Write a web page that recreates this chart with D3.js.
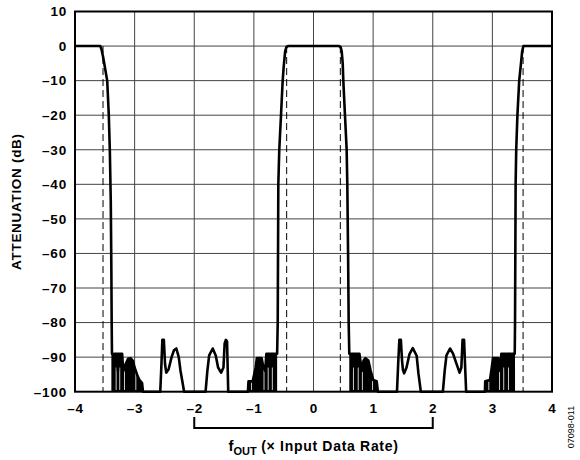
<!DOCTYPE html>
<html>
<head>
<meta charset="utf-8">
<script src="https://cdn.jsdelivr.net/npm/d3@7"></script>
<style>
body { margin: 0; background: #fff; }
text { font-family: "Liberation Sans", Arial, Helvetica, sans-serif; font-weight: bold; fill: #000; }
</style>
</head>
<body>
<div id="content"></div>
<script>
// interpolation filter response, f in units of input data rate, attenuation in dB

var xTicks = [-4, -3, -2, -1, 0, 1, 2, 3, 4];
var yTicks = [10, 0, -10, -20, -30, -40, -50, -60, -70, -80, -90, -100];

// passband edge markers (dashed)
var edgeFreqs = [-3.53, -0.45, 0.45, 3.515];

// stopband regions where the ripple is too dense to resolve
var denseRanges = [[-3.39, -2.86], [-1.10, -0.605], [0.595, 1.08], [2.875, 3.38]];

// thin gaps visible inside the dense ripple
var denseGaps = [-3.31, -3.25, -3.17, -2.98, -1.04, -0.83, -0.76, -0.69, 0.67, 0.75, 0.82, 0.99, 2.94, 3.12, 3.19, 3.27];

var response = [
	// band at -4
	[-4, 0], [-3.575, 0], [-3.555, -1], [-3.53, -3], [-3.50, -6], [-3.46, -10],
	[-3.433, -20], [-3.416, -30], [-3.40, -45], [-3.39, -65], [-3.385, -80], [-3.38, -89],
	// dense stopband
	[-3.36, -89], [-3.35, -93], [-3.34, -89], [-3.29, -89], [-3.28, -94], [-3.27, -89],
	[-3.21, -89], [-3.19, -94], [-3.15, -92], [-3.11, -90.5], [-3.07, -90.3], [-3.03, -91],
	[-3.0, -93], [-2.96, -95], [-2.92, -96.6], [-2.875, -97.5], [-2.86, -100],
	// sparse lobes
	[-2.57, -100], [-2.55, -92], [-2.535, -85], [-2.51, -85], [-2.49, -92], [-2.47, -94.5],
	[-2.43, -93.5], [-2.38, -90], [-2.34, -88], [-2.30, -87.5], [-2.26, -90], [-2.23, -94],
	[-2.20, -97], [-2.17, -100],
	[-1.81, -100], [-1.78, -94], [-1.75, -89.5], [-1.69, -87.5], [-1.64, -89.5], [-1.60, -93],
	[-1.55, -94.5], [-1.51, -93], [-1.49, -86], [-1.47, -85], [-1.45, -85.5], [-1.43, -100],
	// dense stopband
	[-1.10, -100], [-1.09, -97], [-1.02, -97], [-0.97, -93], [-0.95, -90.3], [-0.87, -90.3],
	[-0.84, -93], [-0.81, -94], [-0.79, -89], [-0.74, -89], [-0.73, -93], [-0.72, -89],
	[-0.66, -89], [-0.65, -94], [-0.64, -89], [-0.61, -89],
	// band at 0
	[-0.60, -80], [-0.595, -60], [-0.59, -40], [-0.574, -30], [-0.545, -20], [-0.517, -10],
	[-0.50, -6], [-0.475, -1.5], [-0.455, -0.3], [-0.43, 0], [0.43, 0], [0.455, -0.3],
	[0.473, -1.5], [0.49, -5], [0.50, -10], [0.528, -20], [0.556, -30], [0.567, -40],
	[0.58, -60], [0.59, -80], [0.60, -89],
	// dense stopband
	[0.63, -89], [0.64, -94], [0.65, -89], [0.71, -89], [0.72, -93], [0.73, -89], [0.77, -89],
	[0.81, -94], [0.84, -91], [0.87, -90.3], [0.92, -91], [0.96, -94], [1.0, -96.6],
	[1.06, -97], [1.08, -100],
	// sparse lobes
	[1.40, -100], [1.42, -92], [1.44, -85], [1.465, -85], [1.485, -91], [1.50, -93.7],
	[1.52, -94.7], [1.56, -93], [1.61, -89.1], [1.665, -87.4], [1.73, -89.6], [1.76, -94.7],
	[1.80, -100],
	[2.17, -100], [2.20, -94], [2.23, -89.5], [2.29, -87.5], [2.34, -89], [2.40, -92],
	[2.45, -94.5], [2.48, -93], [2.50, -85], [2.525, -85], [2.56, -100],
	// dense stopband
	[2.875, -100], [2.88, -97], [2.96, -96.6], [2.99, -93], [3.01, -90.3], [3.10, -90.3],
	[3.13, -94], [3.15, -89], [3.22, -89], [3.23, -94], [3.24, -89], [3.31, -89],
	[3.32, -93], [3.33, -89], [3.375, -89],
	// band at +4
	[3.38, -80], [3.385, -60], [3.39, -40], [3.40, -30], [3.42, -20], [3.45, -10],
	[3.48, -5], [3.50, -1.5], [3.52, 0], [4, 0]
];

var plotL = 75, plotR = 552, plotT = 11.5, plotB = 391.7;

var x = d3.scaleLinear().domain([-4, 4]).range([plotL, plotR]);
var y = d3.scaleLinear().domain([10, -100]).range([plotT, plotB]);

function dash(v) {
	return String(v).replace("-", "\u2013");
}

var svg = d3.select("#content").append("svg")
	.attr("width", 580).attr("height", 460);

// grid
svg.append("g").selectAll("line")
	.data(xTicks.slice(1, -1))
	.enter().append("line")
	.attr("x1", function(d) { return x(d); })
	.attr("x2", function(d) { return x(d); })
	.attr("y1", plotT).attr("y2", plotB)
	.attr("stroke", "#444").attr("stroke-width", 1);

svg.append("g").selectAll("line")
	.data(yTicks.slice(1, -1))
	.enter().append("line")
	.attr("y1", function(d) { return y(d); })
	.attr("y2", function(d) { return y(d); })
	.attr("x1", plotL).attr("x2", plotR)
	.attr("stroke", "#444").attr("stroke-width", 1);

// passband edge markers
svg.append("g").selectAll("line")
	.data(edgeFreqs)
	.enter().append("line")
	.attr("x1", function(d) { return x(d); })
	.attr("x2", function(d) { return x(d); })
	.attr("y1", y(0)).attr("y2", y(-100))
	.attr("stroke", "#000").attr("stroke-width", 1)
	.attr("stroke-dasharray", "7,4");

// dense ripple fill
var area = d3.area()
	.x(function(d) { return x(d[0]); })
	.y0(y(-100))
	.y1(function(d) { return y(d[1]); });

svg.append("g").selectAll("path")
	.data(denseRanges)
	.enter().append("path")
	.attr("fill", "#000")
	.attr("d", function(r) {
		return area(response.filter(function(p) { return p[0] >= r[0] && p[0] <= r[1]; }));
	});

svg.append("g").selectAll("line")
	.data(denseGaps)
	.enter().append("line")
	.attr("x1", function(d) { return x(d); })
	.attr("x2", function(d) { return x(d); })
	.attr("y1", y(-93)).attr("y2", y(-99.5))
	.attr("stroke", "#fff").attr("stroke-width", 0.8);

// response curve
var line = d3.line()
	.x(function(d) { return x(d[0]); })
	.y(function(d) { return y(d[1]); });

svg.append("path")
	.attr("d", line(response))
	.attr("fill", "none")
	.attr("stroke", "#000")
	.attr("stroke-width", 2.6)
	.attr("stroke-linejoin", "round");

// frame
svg.append("rect")
	.attr("x", plotL).attr("y", plotT)
	.attr("width", plotR - plotL).attr("height", plotB - plotT)
	.attr("fill", "none").attr("stroke", "#000").attr("stroke-width", 2);

// axes
var yAxis = svg.append("g")
	.attr("transform", "translate(" + plotL + ",0)")
	.call(d3.axisLeft(y).tickValues(yTicks).tickSize(0).tickPadding(8).tickFormat(dash));
var xAxis = svg.append("g")
	.attr("transform", "translate(0," + plotB + ")")
	.call(d3.axisBottom(x).tickValues(xTicks).tickSize(0).tickPadding(12).tickFormat(dash));

[yAxis, xAxis].forEach(function(a) {
	a.select(".domain").remove();
	a.selectAll("text")
		.style("font-family", "\"Liberation Sans\", Arial, sans-serif")
		.style("font-weight", "bold")
		.style("font-size", "13.5px")
		.style("letter-spacing", "0.8px")
		.attr("fill", "#000");
});

// axis titles
svg.append("text")
	.attr("transform", "translate(21," + ((plotT + plotB) / 2) + ") rotate(-90)")
	.attr("text-anchor", "middle")
	.style("font-size", "13.5px")
	.style("letter-spacing", "0.7px")
	.text("ATTENUATION (dB)");

svg.append("path")
	.attr("d", "M" + x(-2) + ",417V428H" + x(2) + "V417")
	.attr("fill", "none").attr("stroke", "#000").attr("stroke-width", 2);

var title = svg.append("text")
	.attr("x", x(0)).attr("y", 451)
	.attr("text-anchor", "middle");
title.append("tspan").style("font-size", "15px").text("f");
title.append("tspan").style("font-size", "11px").attr("dy", 4).text("OUT");
title.append("tspan").style("font-size", "14px").style("letter-spacing", "0.7px")
	.attr("dy", -4).text(" (\u00d7 Input Data Rate)");

svg.append("text")
	.attr("transform", "translate(574,427) rotate(-90)")
	.attr("text-anchor", "middle")
	.style("font-size", "9px")
	.style("font-weight", "normal")
	.text("07098-011");
</script>
</body>
</html>
